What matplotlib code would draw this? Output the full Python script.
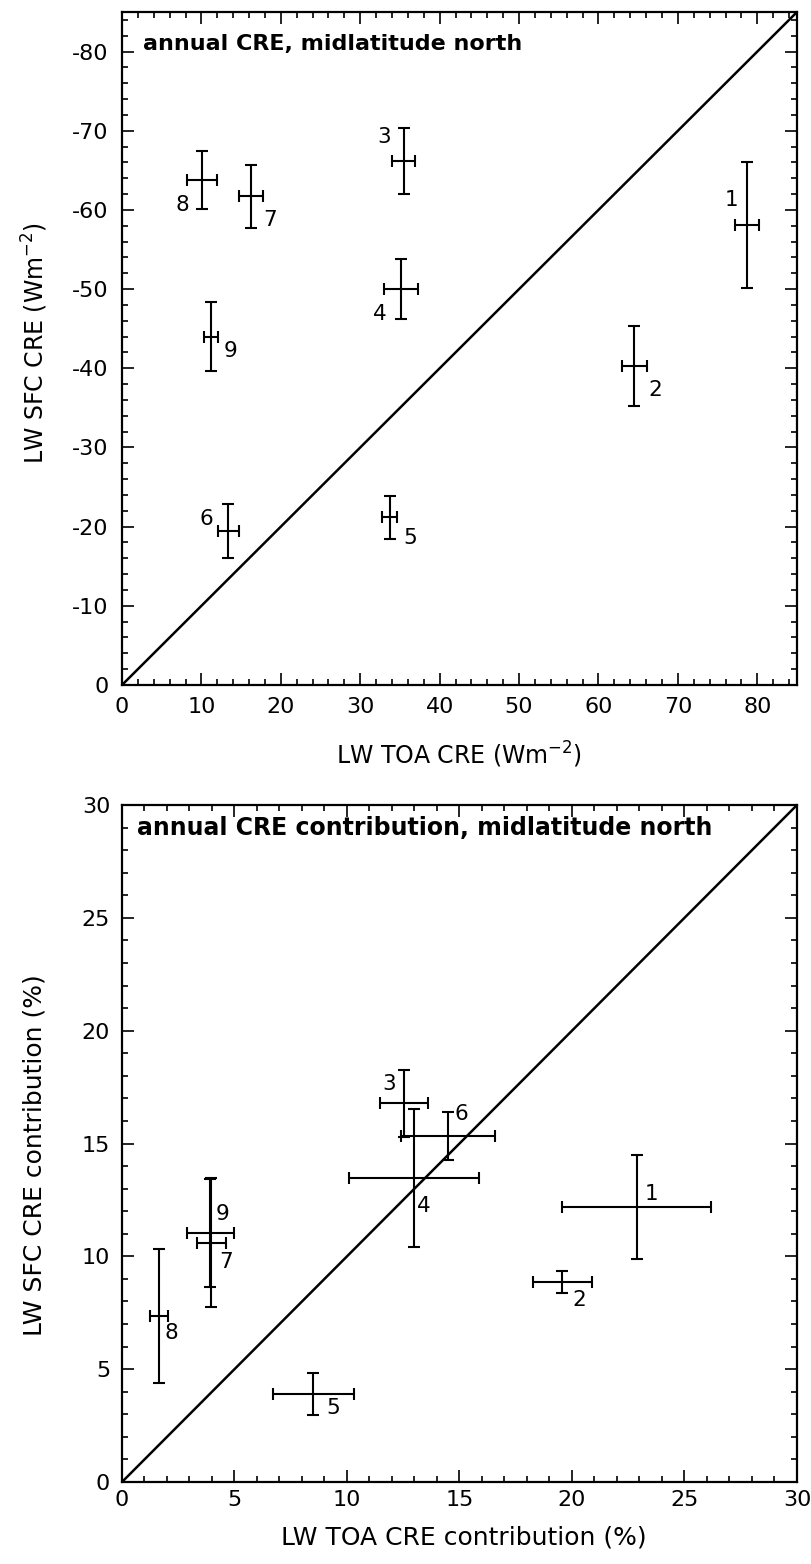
import matplotlib
matplotlib.use("Agg")
import matplotlib.pyplot as plt
from matplotlib.ticker import MultipleLocator, FuncFormatter

plt.rcParams['font.family'] = ['DejaVu Sans']
plt.rcParams['mathtext.default'] = 'regular'
plt.rcParams['axes.unicode_minus'] = False

# ---------------- data ----------------
labels = ['1', '2', '3', '4', '5', '6', '7', '8', '9']

# top panel: annual CRE (W m-2)
toa_cre = [78.7, 64.5, 35.5, 35.1, 33.7, 13.4, 16.2, 10.1, 11.2]
toa_cre_err = [1.5, 1.55, 1.45, 2.15, 0.9, 1.35, 1.5, 1.9, 0.9]
sfc_cre = [-58.1, -40.3, -66.2, -50.0, -21.2, -19.5, -61.7, -63.8, -44.0]
sfc_cre_err = [7.9, 5.0, 4.2, 3.75, 2.7, 3.4, 4.0, 3.7, 4.4]

# bottom panel: annual CRE contribution (%)
toa_contr = [22.87, 19.57, 12.53, 12.98, 8.51, 14.48, 3.97, 1.63, 3.93]
toa_contr_err = [3.3, 1.3, 1.05, 2.9, 1.8, 2.1, 0.63, 0.4, 1.05]
sfc_contr = [12.2, 8.87, 16.78, 13.46, 3.91, 15.34, 10.6, 7.35, 11.02]
sfc_contr_err = [2.3, 0.5, 1.47, 3.05, 0.93, 1.05, 2.85, 2.97, 2.4]

# label offsets (points) for the number annotations
top_offsets = [(-11, 18), (15, -17), (-14, 17), (-15, -18), (15, -15),
               (-16, 8), (14, -17), (-14, -18), (14, -10)]
bot_offsets = [(11, 9), (12, -13), (-11, 14), (7, -20), (14, -10),
               (10, 16), (11, -14), (9, -12), (9, 14)]

W, H = 812, 1564
fig = plt.figure(figsize=(W / 100, H / 100), dpi=100)

ax1 = fig.add_axes([122 / W, 1 - 685 / H, 675 / W, 673 / H])
ax2 = fig.add_axes([122 / W, 1 - 1482 / H, 675 / W, 677 / H])

eb_kw = dict(fmt='none', ecolor='black', elinewidth=1.5, capsize=4.2,
             capthick=1.5)

TICK_FS = 16
NUM_FS = 15.5


def style(ax, major, minor, xpad, ypad):
    ax.xaxis.set_major_locator(MultipleLocator(major))
    ax.xaxis.set_minor_locator(MultipleLocator(minor))
    ax.yaxis.set_major_locator(MultipleLocator(major))
    ax.yaxis.set_minor_locator(MultipleLocator(minor))
    ax.tick_params(which='both', direction='in', top=True, right=True,
                   width=1.2, colors='black', labelsize=TICK_FS)
    ax.tick_params(which='major', length=8.5)
    ax.tick_params(which='minor', length=4.5)
    ax.tick_params(axis='x', which='major', pad=xpad)
    ax.tick_params(axis='y', which='major', pad=ypad)
    for s in ax.spines.values():
        s.set_linewidth(1.6)


# ---------- top panel ----------
lim1 = 85
ax1.errorbar(toa_cre, sfc_cre, xerr=toa_cre_err, yerr=sfc_cre_err, **eb_kw)
ax1.axline((0, 0), slope=-1, color='black', lw=1.8)
ax1.set_xlim(0, lim1)
ax1.set_ylim(0, -lim1)
style(ax1, 10, 2, 9, 9.5)
ax1.yaxis.set_major_formatter(FuncFormatter(lambda v, p: f"{v:.0f}" if v != 0 else "0"))
for lab, x, y, off in zip(labels, toa_cre, sfc_cre, top_offsets):
    ax1.annotate(lab, (x, y), xytext=off, textcoords='offset points',
                 ha='center', va='center', fontsize=NUM_FS)
ax1.text(0.031, 0.9435, 'annual CRE, midlatitude north', transform=ax1.transAxes,
         fontsize=16, fontweight='bold', ha='left', va='baseline')
ax1.set_xlabel('LW TOA CRE (Wm$^{-2}$)', fontsize=17)
ax1.set_ylabel('LW SFC CRE (Wm$^{-2}$)', fontsize=17)
ax1.xaxis.set_label_coords(0.5, (685 - 755) / 673)
ax1.xaxis.label.set_va('center')
ax1.yaxis.set_label_coords((35 - 122) / 675, (685 - 343) / 673)
ax1.yaxis.label.set_va('center')

# ---------- bottom panel ----------
lim2 = 30
ax2.errorbar(toa_contr, sfc_contr, xerr=toa_contr_err, yerr=sfc_contr_err, **eb_kw)
ax2.axline((0, 0), slope=1, color='black', lw=1.8)
ax2.set_xlim(0, lim2)
ax2.set_ylim(0, lim2)
style(ax2, 5, 1, 6, 8.5)
for lab, x, y, off in zip(labels, toa_contr, sfc_contr, bot_offsets):
    ax2.annotate(lab, (x, y), xytext=off, textcoords='offset points',
                 ha='center', va='center', fontsize=NUM_FS)
ax2.text(0.022, 0.955, 'annual CRE contribution, midlatitude north',
         transform=ax2.transAxes, fontsize=17, fontweight='bold',
         ha='left', va='baseline')
ax2.set_xlabel('LW TOA CRE contribution (%)', fontsize=18)
ax2.set_ylabel('LW SFC CRE contribution (%)', fontsize=18)
ax2.xaxis.set_label_coords((464 - 122) / 675, (1482 - 1538) / 677)
ax2.xaxis.label.set_va('center')
ax2.yaxis.set_label_coords((35 - 122) / 675, (1482 - 1155) / 677)
ax2.yaxis.label.set_va('center')

fig.savefig('out.png', dpi=100)
